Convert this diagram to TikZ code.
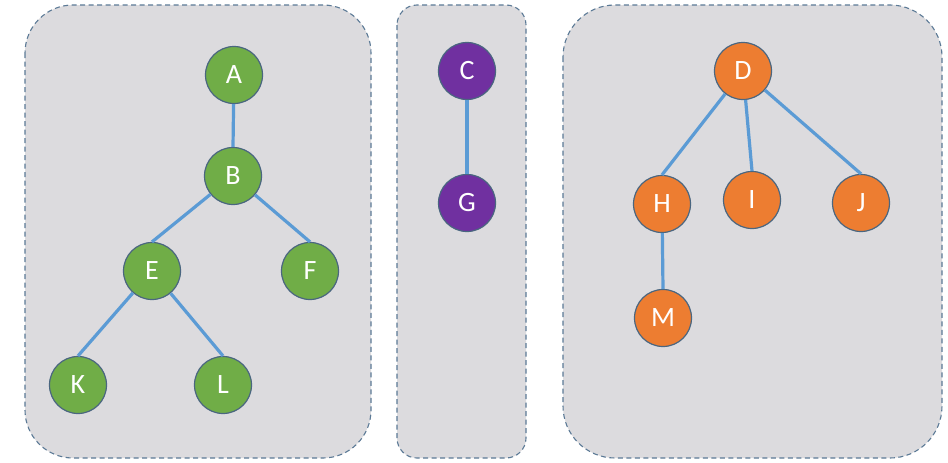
\documentclass[tikz,border=0pt]{standalone}
\usepackage{fontspec}
\setmainfont{Carlito}
\definecolor{panelfill}{HTML}{DCDBDE}
\definecolor{panelborder}{HTML}{5C7A96}
\definecolor{vgreen}{HTML}{70AD47}
\definecolor{vpurple}{HTML}{7030A0}
\definecolor{vorange}{HTML}{ED7D31}
\definecolor{vline}{HTML}{5B9BD5}
\definecolor{vborder}{HTML}{4A6680}
\begin{document}
\begin{tikzpicture}[x=1pt,y=-1pt,
  panel/.style={fill=panelfill,draw=panelborder,line width=1.1pt,dash pattern=on 5pt off 3.5pt},
  vtx/.style={circle,minimum size=57pt,inner sep=0pt,draw=vborder,line width=1.2pt,text=white,font=\fontsize{28}{28}\selectfont},
  gv/.style={vtx,fill=vgreen},
  pv/.style={vtx,fill=vpurple},
  ov/.style={vtx,fill=vorange},
  edge/.style={draw=vline,line width=3.2pt}]
\useasboundingbox (0,0) rectangle (948,463);
\fill[white] (0,0) rectangle (948,463);
\draw[panel,rounded corners=48pt] (25,5) rectangle (371,458);
\draw[panel,rounded corners=20pt] (397,5) rectangle (526,458);
\draw[panel,rounded corners=52pt] (563,5) rectangle (942,458);
\node[gv] (A) at (234,75) {A};
\node[gv] (B) at (233,176) {B};
\node[gv] (E) at (152,271) {E};
\node[gv] (F) at (310,271) {F};
\node[gv] (K) at (78,385) {K};
\node[gv] (L) at (223,385) {L};
\node[pv] (C) at (467,71) {C};
\node[pv] (G) at (467,203) {G};
\node[ov] (D) at (743,71) {D};
\node[ov] (H) at (662,204) {H};
\node[ov] (I) at (752,200) {I};
\node[ov] (J) at (861,203) {J};
\node[ov] (M) at (663,318) {M};
\path[edge] (A) -- (B.north);
\path[edge] (B) -- (E.north);
\path[edge] (B) -- (F.north);
\path[edge] (E) -- (K.north);
\path[edge] (E) -- (L.north);
\path[edge] (C) -- (G.north);
\path[edge] (D) -- (H.north);
\path[edge] (D) -- (I.north);
\path[edge] (D) -- (J.north);
\path[edge] (H) -- (M.north);
\end{tikzpicture}
\end{document}
